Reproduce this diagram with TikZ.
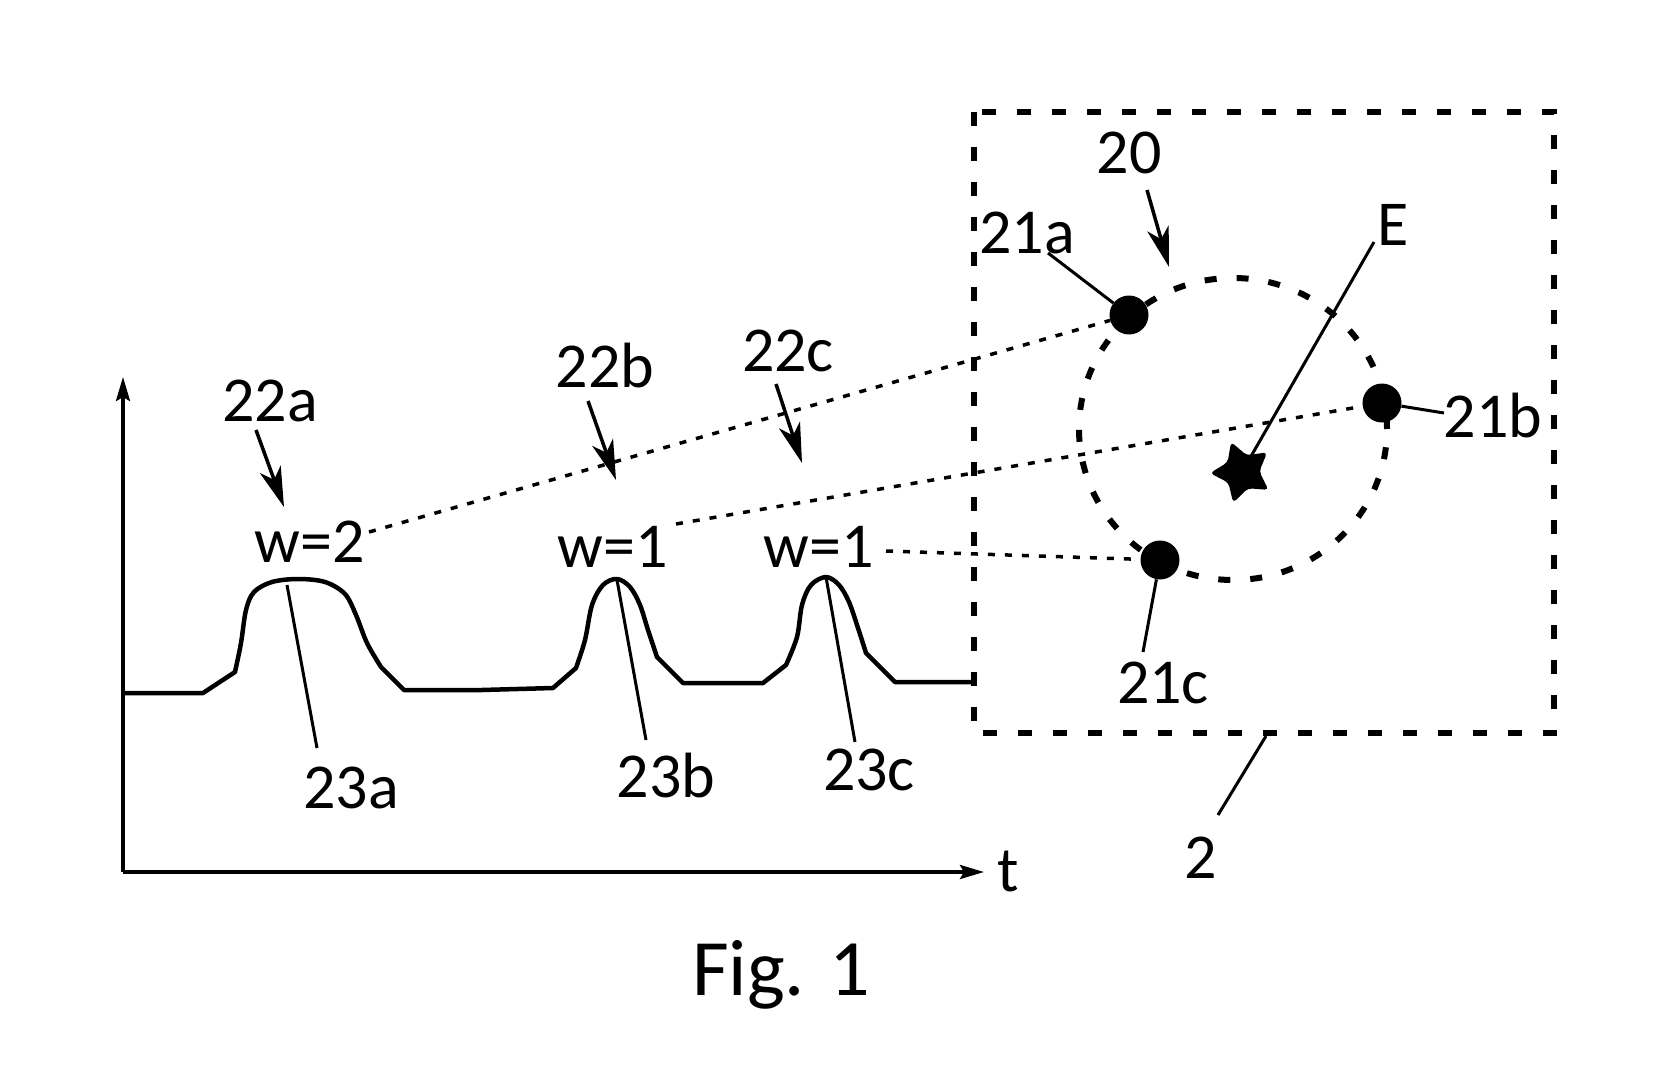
\documentclass[tikz,border=0pt]{standalone}
\usepackage{fontspec}
\setmainfont{Carlito}
\usetikzlibrary{arrows.meta,shapes.geometric}
\begin{document}
\begin{tikzpicture}[x=1pt,y=-1pt,
  axis/.style={line width=3.5pt,-{Stealth[length=24pt,width=14pt,inset=4pt]}},
  sig/.style={line width=4.5pt,line join=round},
  lead/.style={line width=3pt},
  parrow/.style={line width=3.5pt,-{Stealth[length=40pt,width=22pt,inset=11pt]}},
  conn/.style={line width=3.5pt,dash pattern=on 7pt off 10pt},
  framebox/.style={line width=6pt,dash pattern=on 14pt off 21pt},
  circ/.style={line width=6pt,dash pattern=on 12pt off 20pt},
  dot/.style={circle,fill=black,inner sep=0pt,minimum size=39pt},
  lbl/.style={font=\fontsize{64}{70}\selectfont,anchor=base,inner sep=0pt},
  figlbl/.style={font=\fontsize{80}{90}\selectfont,anchor=base,inner sep=0pt}]
\useasboundingbox (0,0) rectangle (1678,1078);

% axes
\coordinate (origin) at (123,872);
\coordinate (ytip) at (123,377);
\coordinate (xtip) at (984,872);
\draw[axis] (origin) -- (ytip);
\draw[axis] (origin) -- (xtip);
\node[lbl] (t) at (1008,891) {t};

% signal
\draw[sig] (123,693) -- (203,693) -- (235,672)
  -- plot[smooth,tension=0.55] coordinates {(235,672) (241,643) (246,610) (254,592) (272,582) (298,579) (325,582) (345,594) (356,615) (367,643) (381,667)}
  -- (404,690) -- (482,690) -- (553,688) -- (576,668)
  -- plot[smooth,tension=0.55] coordinates {(576,668) (585,640) (592,605) (603,585) (617,579) (630,587) (640,605) (648,630) (657,657)}
  -- (683,683) -- (763,683) -- (786,665)
  -- plot[smooth,tension=0.55] coordinates {(786,665) (797,637) (802,605) (811,585) (826,577) (839,585) (849,602) (858,628) (866,653)}
  -- (895,682) -- (973,682);

% peak labels
\coordinate (p23a) at (287,585); \coordinate (e23a) at (317,748);
\coordinate (p23b) at (617,580); \coordinate (e23b) at (646,740);
\coordinate (p23c) at (826,577); \coordinate (e23c) at (855,742);
\draw[lead] (p23a) -- (e23a);
\draw[lead] (p23b) -- (e23b);
\draw[lead] (p23c) -- (e23c);
\node[lbl] (l23a) at (351,808) {23a};
\node[lbl] (l23b) at (666,797) {23b};
\node[lbl] (l23c) at (869,790) {23c};

% weights
\node[lbl] (w2) at (310,562) {w=2};
\node[lbl] (w1b) at (613,567) {w=1};
\node[lbl] (w1c) at (819,567) {w=1};

% 22 labels and arrows
\node[lbl] (l22a) at (270,421) {22a};
\node[lbl] (l22b) at (605,387) {22b};
\node[lbl] (l22c) at (788,371) {22c};
\coordinate (s22a) at (256,430); \coordinate (t22a) at (284,507);
\coordinate (s22b) at (588,401); \coordinate (t22b) at (616,480);
\coordinate (s22c) at (776,384); \coordinate (t22c) at (802,463);
\draw[parrow] (s22a) -- (t22a);
\draw[parrow] (s22b) -- (t22b);
\draw[parrow] (s22c) -- (t22c);

% dashed frame
\draw[framebox] (974,112) rectangle (1554,733);
\coordinate (f2) at (1266,736); \coordinate (e2) at (1218,815);
\draw[lead] (f2) -- (e2);
\node[lbl] (l2) at (1201,878) {2};

% ellipse 20
\draw[circ] (1233,429) ellipse [x radius=154pt,y radius=151pt];
\node[lbl] (l20) at (1129,174) {20};
\coordinate (s20) at (1147,190); \coordinate (t20) at (1169,267);
\draw[parrow] (s20) -- (t20);

% connectors
\coordinate (c22a) at (369,532);
\coordinate (c22b) at (676,524);
\coordinate (c22c) at (886,551);
\node[dot] (d21a) at (1129,315) {};
\node[dot] (d21b) at (1382,403) {};
\node[dot] (d21c) at (1160,560) {};
\draw[conn] (c22a) -- (d21a);
\draw[conn] (c22b) -- (d21b);
\draw[conn] (c22c) -- (d21c);

% dot labels
\node[lbl] (l21a) at (1027,253) {21a};
\node[lbl] (l21b) at (1493,437) {21b};
\node[lbl] (l21c) at (1163,703) {21c};
\coordinate (e21a) at (1048,253);
\coordinate (e21b) at (1444,413);
\coordinate (e21c) at (1143,652);
\draw[lead] (e21a) -- (d21a);
\draw[lead] (d21b) -- (e21b);
\draw[lead] (d21c) -- (e21c);

% star E
\node[star,star points=5,star point ratio=1.85,minimum size=64pt,inner sep=0pt,fill=black,rounded corners=4pt,rotate=20] (star) at (1242,472) {};
\node[lbl] (lE) at (1393,245) {E};
\coordinate (eE) at (1374,242);
\draw[lead] (eE) -- (star.center);

% caption
\node[figlbl] (fig) at (781,995) {Fig. 1};
\end{tikzpicture}
\end{document}
